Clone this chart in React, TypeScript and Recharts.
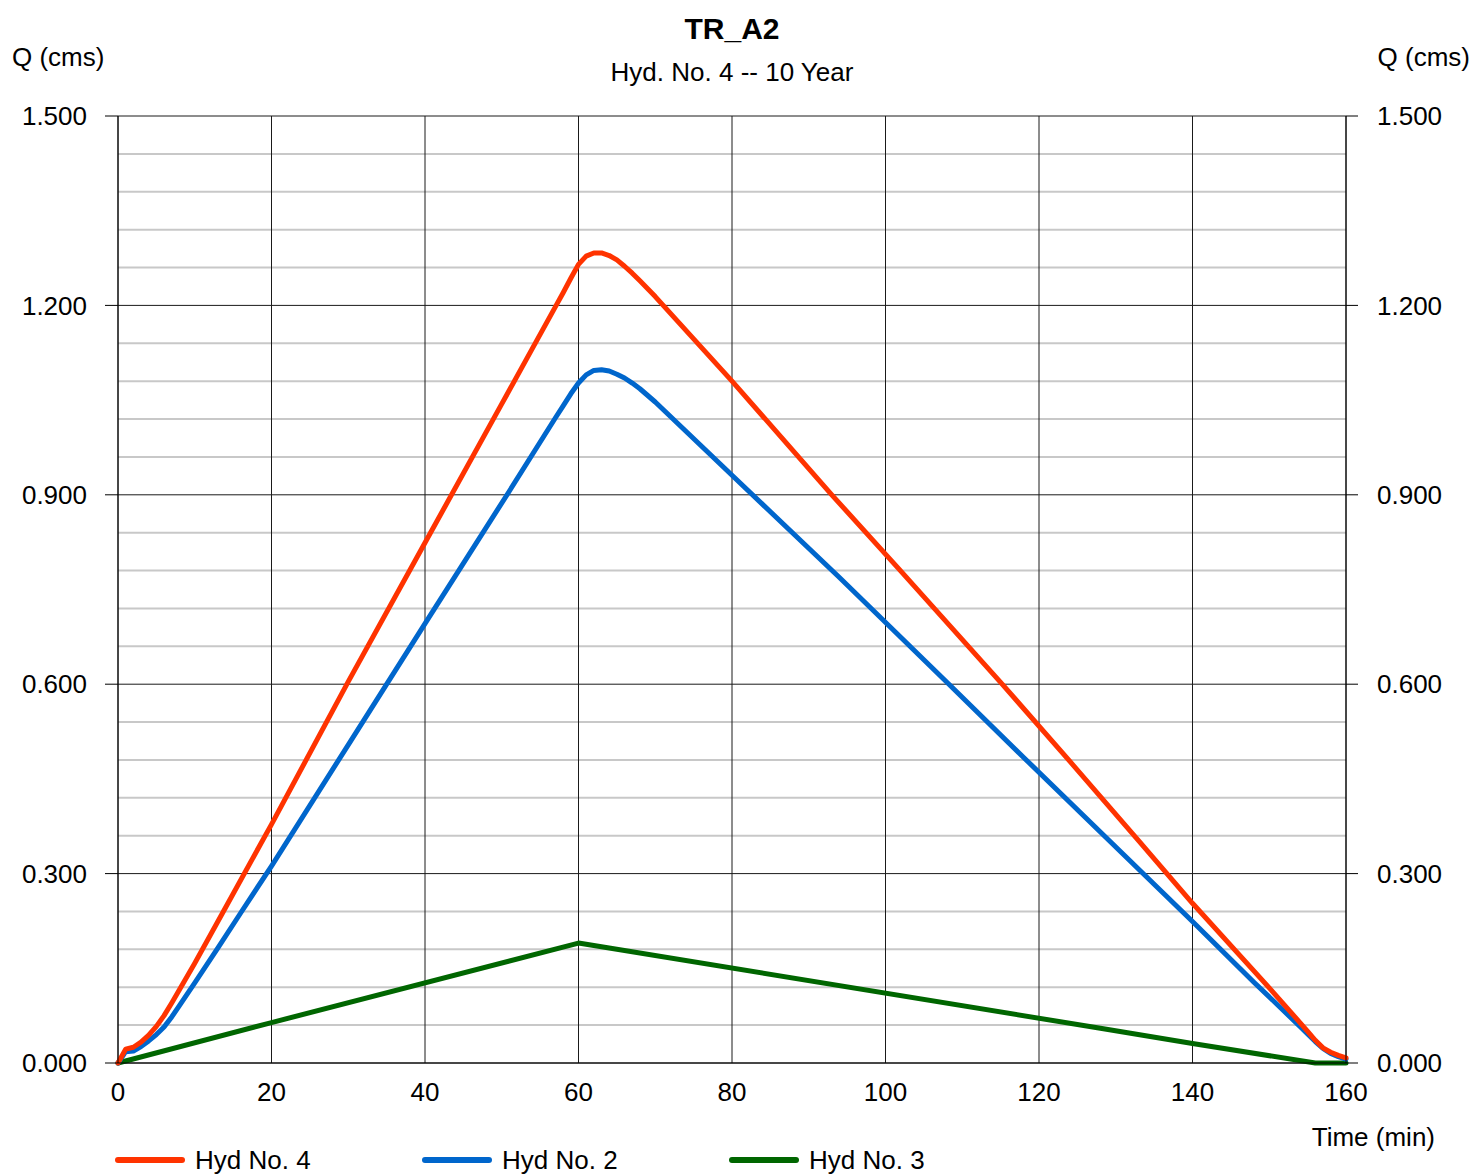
import React from "react"
import { LineChart, Line, XAxis, YAxis, CartesianGrid } from "recharts"

// hydrograph ordinates, time in minutes, flow in cms
const hyd4Time = [0, 1, 2, 3, 4, 5, 6, 7, 8, 10, 14, 20, 30, 40, 50, 57, 58, 59, 60, 61, 62, 63, 64, 65, 66, 67, 68, 70, 80, 93, 102, 115, 124, 133, 140, 150, 154, 155, 156, 157, 158, 159, 160]
const hyd4Flow = [0, 0.022, 0.025, 0.033, 0.044, 0.058, 0.075, 0.095, 0.116, 0.158, 0.246, 0.378, 0.604, 0.824, 1.044, 1.198, 1.22, 1.243, 1.265, 1.278, 1.283, 1.283, 1.279, 1.272, 1.262, 1.251, 1.239, 1.214, 1.08, 0.9, 0.779, 0.603, 0.478, 0.352, 0.253, 0.119, 0.064, 0.05, 0.036, 0.024, 0.017, 0.012, 0.008]

const hyd2Time = [0, 1, 2, 3, 4, 5, 6, 7, 8, 10, 13, 16, 20, 30, 40, 51, 57, 58, 59, 60, 61, 62, 63, 64, 65, 66, 67, 68, 70, 80, 94, 108, 118, 129, 140, 148, 154, 155, 156, 157, 158, 159, 160]
const hyd2Flow = [0, 0.018, 0.019, 0.026, 0.035, 0.045, 0.057, 0.073, 0.091, 0.127, 0.182, 0.238, 0.312, 0.504, 0.696, 0.906, 1.022, 1.041, 1.06, 1.077, 1.09, 1.097, 1.098, 1.096, 1.091, 1.085, 1.077, 1.068, 1.047, 0.931, 0.769, 0.603, 0.484, 0.354, 0.224, 0.128, 0.058, 0.046, 0.034, 0.023, 0.015, 0.01, 0.006]

const hyd3Time = [0, 20, 60, 128, 140, 156, 160]
const hyd3Flow = [0, 0.064, 0.19, 0.055, 0.031, 0, 0]

const timeTicks = [0, 20, 40, 60, 80, 100, 120, 140, 160]
const flowTicks = [0, 0.3, 0.6, 0.9, 1.2, 1.5]
const minorFlowTicks = [
  0.06, 0.12, 0.18, 0.24, 0.36, 0.42, 0.48, 0.54, 0.66, 0.72, 0.78, 0.84,
  0.96, 1.02, 1.08, 1.14, 1.26, 1.32, 1.38, 1.44,
]

const toPoints = (t: number[], q: number[]) => t.map((time, i) => ({ time, q: q[i] }))

// Hyd No. 4 sits on the right axis (same scale) so that axis gets drawn too
const series = [
  { name: "Hyd No. 4", color: "#ff3300", axis: "right", data: toPoints(hyd4Time, hyd4Flow) },
  { name: "Hyd No. 2", color: "#0066cc", axis: "left", data: toPoints(hyd2Time, hyd2Flow) },
  { name: "Hyd No. 3", color: "#006600", axis: "left", data: toPoints(hyd3Time, hyd3Flow) },
]

const FONT = "'Liberation Sans', Arial, Helvetica, sans-serif"
const W = 1474
const H = 1174

const tickStyle = { fontSize: 26, fill: "#000", fontFamily: FONT }

export default function App() {
  return (
    <div style={{ position: "absolute", left: 0, top: 0, width: W, height: H, background: "#fff" }}>
      <LineChart
        width={W}
        height={H}
        margin={{ top: 116, right: 68, bottom: 81, left: 58 }}
      >
        <CartesianGrid
          yAxisId="left"
          horizontalValues={minorFlowTicks}
          vertical={false}
          stroke="#c8c8c8"
          strokeWidth={2}
        />
        <CartesianGrid
          yAxisId="left"
          horizontalValues={flowTicks}
          verticalValues={timeTicks}
          stroke="#1a1a1a"
          strokeWidth={1}
        />
        <XAxis
          dataKey="time"
          type="number"
          domain={[0, 160]}
          ticks={timeTicks}
          allowDuplicatedCategory={false}
          height={30}
          tickLine={false}
          tickSize={0}
          tickMargin={20}
          axisLine={{ stroke: "#000" }}
          tick={tickStyle}
        />
        <YAxis
          yAxisId="left"
          type="number"
          domain={[0, 1.5]}
          ticks={flowTicks}
          width={60}
          tickSize={13}
          tickMargin={18}
          tickLine={{ stroke: "#000" }}
          axisLine={{ stroke: "#000" }}
          tick={tickStyle}
          tickFormatter={(v: number) => v.toFixed(3)}
        />
        <YAxis
          yAxisId="right"
          orientation="right"
          type="number"
          domain={[0, 1.5]}
          ticks={flowTicks}
          width={60}
          tickSize={12}
          tickMargin={19}
          tickLine={{ stroke: "#000" }}
          axisLine={{ stroke: "#000" }}
          tick={tickStyle}
          tickFormatter={(v: number) => v.toFixed(3)}
        />
        {[...series].reverse().map((s) => (
          <Line
            key={s.name}
            yAxisId={s.axis}
            data={s.data}
            dataKey="q"
            name={s.name}
            type="linear"
            stroke={s.color}
            strokeWidth={5}
            strokeLinejoin="round"
            strokeLinecap="round"
            dot={false}
            activeDot={false}
            isAnimationActive={false}
          />
        ))}
      </LineChart>

      <svg
        width={W}
        height={H}
        style={{ position: "absolute", left: 0, top: 0, pointerEvents: "none" }}
        fontFamily={FONT}
      >
        <text x={732} y={39} textAnchor="middle" fontSize={30} fontWeight="bold">TR_A2</text>
        <text x={732} y={81} textAnchor="middle" fontSize={26}>Hyd. No. 4 -- 10 Year</text>
        <text x={12} y={66} fontSize={26}>Q (cms)</text>
        <text x={1470} y={66} textAnchor="end" fontSize={26}>Q (cms)</text>
        <text x={1435} y={1146} textAnchor="end" fontSize={26}>Time (min)</text>
        {series.map((s, i) => {
          const x0 = 118 + i * 307
          return (
            <g key={s.name}>
              <line x1={x0} x2={x0 + 64} y1={1160} y2={1160} stroke={s.color} strokeWidth={6} strokeLinecap="round" />
              <text x={x0 + 77} y={1169} fontSize={26}>{s.name}</text>
            </g>
          )
        })}
      </svg>
    </div>
  )
}
